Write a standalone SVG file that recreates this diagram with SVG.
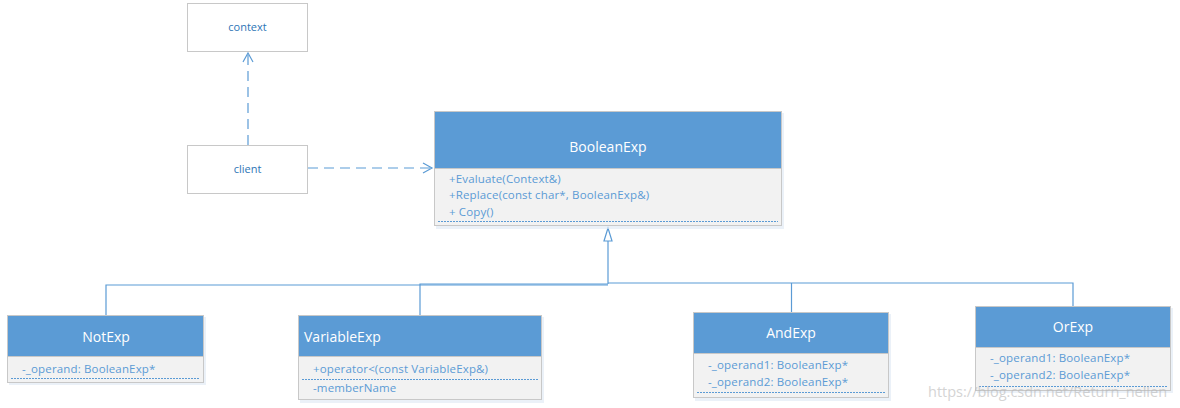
<svg xmlns="http://www.w3.org/2000/svg" width="1180" height="408" viewBox="0 0 1180 408">
<style>
.box{fill:#ffffff;stroke:#c8c8c8;stroke-width:1}
.hdr{fill:#5b9bd5;stroke:#c8c8c8;stroke-width:1}
.body{fill:#f2f2f2;stroke:#c8c8c8;stroke-width:1}
.sh{fill:#dde8f3;opacity:0.6}
.t{font-family:"Open Sans","Noto Sans",sans-serif;font-size:11px;fill:#2e75b6}
.ht{font-family:"Open Sans","Noto Sans",sans-serif;font-size:14px;fill:#ffffff}
.m{font-family:"Open Sans","Noto Sans",sans-serif;font-size:11.5px;letter-spacing:0.15px;fill:#5b9bd5}
.dl{stroke:#5b9bd5;stroke-width:1;stroke-dasharray:2,1}
.conn{fill:none;stroke:#5b9bd5;stroke-width:1.2}
.dash{fill:none;stroke:#5b9bd5;stroke-width:1.2;stroke-dasharray:10,6}
.wm{font-family:"Open Sans","Noto Sans",sans-serif;font-size:14.5px;fill:#b8b8b8;opacity:0.6}
</style>
<defs>
<marker id="open" markerWidth="12" markerHeight="12" refX="10" refY="6" orient="auto" markerUnits="userSpaceOnUse">
<path d="M1,1 L10,6 L1,11" fill="none" stroke="#5b9bd5" stroke-width="1.2"/>
</marker>
</defs>
<rect width="1180" height="408" fill="#ffffff"/>
<g id="connectors">
<line class="dash" x1="248" y1="145" x2="248" y2="53" marker-end="url(#open)"/>
<line class="dash" x1="308" y1="168" x2="432" y2="168" marker-end="url(#open)"/>
<path class="conn" d="M608,241 L608,284"/>
<polygon points="608,228 604,241 612,241" fill="#ffffff" stroke="#5b9bd5" stroke-width="1.2"/>
<path class="conn" d="M106,315 L106,285 L608,285"/>
<path class="conn" d="M420,315 L420,284 L608,284"/>
<path class="conn" d="M608,283 L1073,283 L1073,306"/>
<path class="conn" d="M791.5,283 L791.5,312"/>
</g>
<g id="context">
<rect class="box" x="187.5" y="3.5" width="120" height="48"/>
<text class="t" x="247.5" y="31" text-anchor="middle">context</text>
</g>
<g id="client">
<rect class="box" x="187.5" y="145.5" width="120" height="48"/>
<text class="t" x="247.5" y="173" text-anchor="middle">client</text>
</g>
<g id="BooleanExp">
<rect class="sh" x="436" y="113" width="348" height="116"/>
<rect class="hdr" x="434.5" y="111.5" width="347" height="57"/>
<rect class="body" x="434.5" y="168.5" width="347" height="57"/>
<text class="ht" x="608" y="152" text-anchor="middle">BooleanExp</text>
<text class="m" x="449" y="183">+Evaluate(Context&amp;)</text>
<text class="m" x="449" y="199">+Replace(const char*, BooleanExp&amp;)</text>
<text class="m" x="449" y="216">+ Copy()</text>
<line class="dl" x1="438" y1="221.5" x2="778" y2="221.5"/>
</g>
<g id="NotExp">
<rect class="sh" x="9" y="317" width="197" height="68"/>
<rect class="hdr" x="7.5" y="315.5" width="196" height="41"/>
<rect class="body" x="7.5" y="356.5" width="196" height="26"/>
<text class="ht" x="106" y="342" text-anchor="middle">NotExp</text>
<text class="m" x="22" y="373">-_operand: BooleanExp*</text>
<line class="dl" x1="11" y1="378.5" x2="200" y2="378.5"/>
</g>
<g id="VariableExp">
<rect class="sh" x="300" y="317" width="244" height="86"/>
<rect class="hdr" x="298.5" y="315.5" width="243" height="41"/>
<rect class="body" x="298.5" y="356.5" width="243" height="43"/>
<text class="ht" x="304" y="342">VariableExp</text>
<text class="m" x="313" y="373">+operator&lt;(const VariableExp&amp;)</text>
<line class="dl" x1="302" y1="379.5" x2="538" y2="379.5"/>
<text class="m" x="313" y="392">-memberName</text>
</g>
<g id="AndExp">
<rect class="sh" x="695" y="314" width="196" height="87"/>
<rect class="hdr" x="693.5" y="312.5" width="195" height="41"/>
<rect class="body" x="693.5" y="353.5" width="195" height="44"/>
<text class="ht" x="791" y="338" text-anchor="middle">AndExp</text>
<text class="m" x="708" y="369">-_operand1: BooleanExp*</text>
<text class="m" x="708" y="386">-_operand2: BooleanExp*</text>
<line class="dl" x1="697" y1="392.5" x2="885" y2="392.5"/>
</g>
<g id="OrExp">
<rect class="sh" x="977" y="308" width="196" height="85"/>
<rect class="hdr" x="975.5" y="306.5" width="195" height="41"/>
<rect class="body" x="975.5" y="347.5" width="195" height="43"/>
<text class="ht" x="1073" y="332" text-anchor="middle">OrExp</text>
<text class="m" x="990" y="362">-_operand1: BooleanExp*</text>
<text class="m" x="990" y="379">-_operand2: BooleanExp*</text>
<line class="dl" x1="979" y1="386.5" x2="1167" y2="386.5"/>
</g>
<text class="wm" x="928" y="397">https://blog.csdn.net/Return_nellen</text>
</svg>
